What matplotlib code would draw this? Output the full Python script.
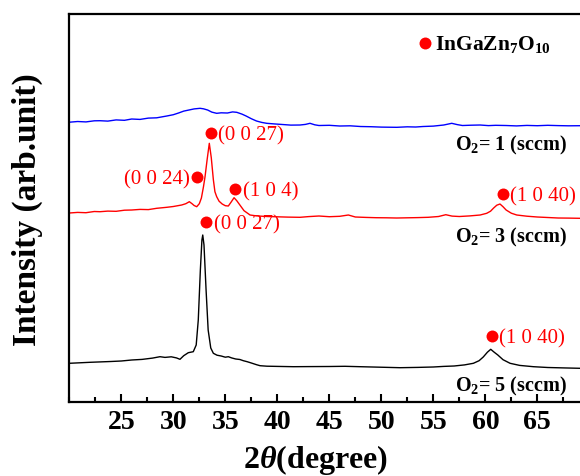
# -*- coding: utf-8 -*-
from matplotlib.ticker import MultipleLocator
import matplotlib
matplotlib.use("Agg")
import matplotlib.pyplot as plt


# XRD scans, 2theta in degree and intensity in arb. units (offset traces)
theta_o1 = [20.0, 20.8, 21.6, 22.4, 22.95, 23.7, 24.5, 25.3, 26.0, 26.8,
            27.6, 28.4, 29.37, 30.0, 30.5, 31.0, 31.5, 32.0, 32.57, 32.9,
            33.3, 33.7, 34.17, 34.6, 35.2, 35.7, 36.1, 36.6, 37.0, 37.5,
            38.0, 38.5, 38.98, 39.7, 40.5, 41.3, 42.18, 42.7, 43.14, 43.6,
            44.0, 45.0, 46.0, 47.0, 48.0, 49.0, 50.0, 51.48, 52.5, 53.3,
            54.0, 55.0, 56.0, 56.77, 57.3, 57.8, 58.6, 59.5, 60.3, 61.0,
            62.0, 63.0, 64.0, 65.0, 66.0, 67.0, 68.0, 69.1, 70.0]
inten_o1 = [279.5, 280.2, 279.8, 280.9, 281.0, 280.6, 281.8, 281.4, 282.7, 282.3,
            283.6, 283.9, 285.7, 287.0, 288.7, 290.6, 291.7, 292.8, 293.4, 292.9,
            291.7, 289.6, 288.4, 288.9, 288.7, 289.8, 289.4, 287.6, 285.7, 283.0,
            280.7, 279.3, 278.4, 277.8, 277.2, 276.6, 276.7, 277.3, 278.4, 276.9,
            276.2, 276.4, 275.7, 275.9, 275.2, 275.0, 274.6, 274.4, 274.9, 274.7,
            275.2, 275.6, 276.7, 278.4, 277.1, 276.2, 276.5, 276.7, 276.1, 276.4,
            276.2, 275.8, 276.3, 276.0, 276.4, 276.1, 275.9, 276.0, 276.0]

theta_o3 = [20.0, 20.8, 21.6, 22.4, 22.95, 23.7, 24.5, 25.3, 26.0, 26.8,
            27.6, 28.4, 29.37, 30.0, 30.8, 31.2, 31.54, 31.8, 32.0, 32.25,
            32.5, 32.7, 32.9, 33.05, 33.25, 33.46, 33.65, 33.85, 34.0, 34.17,
            34.4, 34.7, 35.0, 35.29, 35.55, 35.84, 36.1, 36.4, 36.8, 37.38,
            38.0, 39.0, 40.0, 41.0, 42.18, 43.0, 44.0, 45.0, 46.0, 46.83,
            47.5, 48.5, 49.5, 50.5, 51.48, 52.5, 53.5, 54.5, 55.5, 56.2,
            56.8, 57.5, 58.5, 59.5, 60.13, 60.5, 60.8, 61.1, 61.41, 61.7,
            62.0, 62.5, 63.02, 64.0, 65.0, 66.0, 67.0, 68.0, 69.1, 70.0]
inten_o3 = [188.7, 189.3, 189.0, 190.2, 190.0, 190.6, 190.4, 191.5, 191.7, 192.3,
            192.1, 193.4, 194.4, 195.2, 196.7, 198.0, 200.0, 198.0, 196.2, 195.0,
            198.0, 203.7, 215.0, 225.0, 242.0, 258.4, 244.0, 222.0, 210.0, 205.0,
            200.5, 197.7, 196.0, 195.7, 199.5, 204.0, 201.0, 196.7, 191.0, 186.7,
            185.8, 185.2, 184.9, 184.6, 184.4, 185.1, 185.7, 185.0, 185.4, 186.7,
            184.7, 184.3, 184.0, 183.9, 183.7, 183.9, 184.1, 184.4, 185.2, 187.0,
            185.6, 185.2, 185.8, 186.7, 188.4, 190.5, 193.7, 196.5, 197.7, 195.0,
            191.7, 188.5, 186.7, 185.5, 184.7, 184.2, 183.7, 183.6, 183.4, 183.3]

theta_o5 = [20.0, 21.0, 22.0, 23.0, 24.0, 25.0, 26.0, 27.0, 28.0, 28.72,
            29.2, 29.8, 30.3, 30.64, 31.0, 31.44, 31.92, 32.2, 32.4, 32.6,
            32.75, 32.83, 32.95, 33.15, 33.35, 33.6, 33.85, 34.2, 34.6, 35.0,
            35.29, 35.6, 36.0, 36.4, 36.73, 37.1, 37.5, 38.0, 38.34, 39.0,
            40.0, 41.54, 43.0, 45.0, 46.5, 47.95, 49.5, 51.8, 53.5, 55.0,
            56.0, 57.0, 58.0, 58.85, 59.4, 59.8, 60.2, 60.52, 60.85, 61.2,
            61.7, 62.38, 63.3, 64.62, 66.0, 67.5, 69.1, 70.0]
inten_o5 = [38.4, 38.9, 39.4, 39.8, 40.2, 40.7, 41.7, 42.3, 43.6, 45.0,
            44.3, 44.9, 43.8, 42.4, 46.0, 49.0, 50.0, 56.7, 81.7, 131.7,
            161.7, 166.7, 156.7, 111.7, 71.7, 53.7, 48.4, 46.5, 45.7, 44.5,
            45.0, 43.8, 42.7, 42.2, 41.0, 40.0, 38.7, 37.0, 36.0, 35.5,
            35.3, 35.0, 35.1, 35.2, 35.4, 35.0, 34.6, 34.0, 34.3, 34.7,
            35.3, 35.7, 36.8, 38.4, 41.0, 44.7, 49.5, 52.4, 49.5, 46.7,
            42.0, 38.4, 36.3, 35.0, 34.2, 33.8, 33.4, 33.3]

# InGaZn7O10 reflections marked on the traces
peak_theta = [33.6, 32.31, 35.96, 61.67, 33.14, 60.62]
peak_level = [268.4, 224.4, 212.4, 207.4, 180.0, 65.7]
peak_hkl = ["(0 0 27)", "(0 0 24)", "(1 0 4)", "(1 0 40)", "(0 0 27)", "(1 0 40)"]

flow_labels = ["O$_2$= 1 (sccm)", "O$_2$= 3 (sccm)", "O$_2$= 5 (sccm)"]
flow_level = [251.2, 159.0, 10.0]


def setup_style() -> None:
    """ Times-like bold look of the original figure. """
    plt.rcParams["font.family"] = ["Liberation Serif", "DejaVu Serif"]
    plt.rcParams["font.weight"] = "bold"
    plt.rcParams["axes.labelweight"] = "bold"
    plt.rcParams["mathtext.fontset"] = "custom"
    plt.rcParams["mathtext.rm"] = "Liberation Serif:bold"
    plt.rcParams["mathtext.bf"] = "Liberation Serif:bold"
    plt.rcParams["mathtext.it"] = "Liberation Serif:italic:bold"


def main() -> None:
    setup_style()

    fig = plt.figure(figsize=(5.8, 4.76), dpi=100)
    # right edge runs past the figure, as in the cropped original
    ax = fig.add_axes([0.1195, 0.1561, 0.8966, 0.8155])

    ax.plot(theta_o1, inten_o1, color="blue", lw=1.0)
    ax.plot(theta_o3, inten_o3, color="red", lw=1.0)
    ax.plot(theta_o5, inten_o5, color="black", lw=1.0)

    ax.plot(peak_theta, peak_level, "o", color="red", ms=8.6, mec="none")
    for x, y, hkl in zip(peak_theta, peak_level, peak_hkl):
        left = hkl == "(0 0 24)"
        ax.annotate(hkl, (x, y), xytext=(-5.3 if left else 5.5, -2),
                    textcoords="offset points", ha="right" if left else "left",
                    va="center", color="red", fontsize=15, fontweight="normal")

    for text, y in zip(flow_labels, flow_level):
        ax.text(67.83, y, text, ha="right", va="baseline", fontsize=14.5)

    # phase key
    ax.plot([54.2], [359.0], "o", color="red", ms=8.6, mec="none")
    ax.text(55.15, 351.7, "InGaZn$_7$O$_{10}$", ha="left", va="baseline",
            fontsize=15.5)

    ax.set_xlim(20, 70)
    ax.set_ylim(0, 388.2)
    ax.xaxis.set_major_locator(MultipleLocator(5))
    ax.xaxis.set_minor_locator(MultipleLocator(2.5))
    ax.set_xticks(range(25, 70, 5))
    ax.set_yticks([])
    ax.tick_params(axis="x", which="both", direction="in", width=1.5,
                   labelsize=20, pad=6)
    ax.tick_params(axis="x", which="major", length=6)
    ax.tick_params(axis="x", which="minor", length=3.5)
    for sp in ax.spines.values():
        sp.set_linewidth(1.6)

    ax.set_xlabel(r"2$\theta$(degree)", fontsize=23, fontweight="bold",
                  va="baseline")
    ax.xaxis.set_label_coords(0.4744, -0.171)
    ax.set_ylabel("Intensity (arb.unit)", fontsize=24, fontweight="bold")
    ax.yaxis.set_label_coords(-0.0506, 0.494)

    fig.savefig("out.png", dpi=100)


if __name__ == "__main__":
    main()
